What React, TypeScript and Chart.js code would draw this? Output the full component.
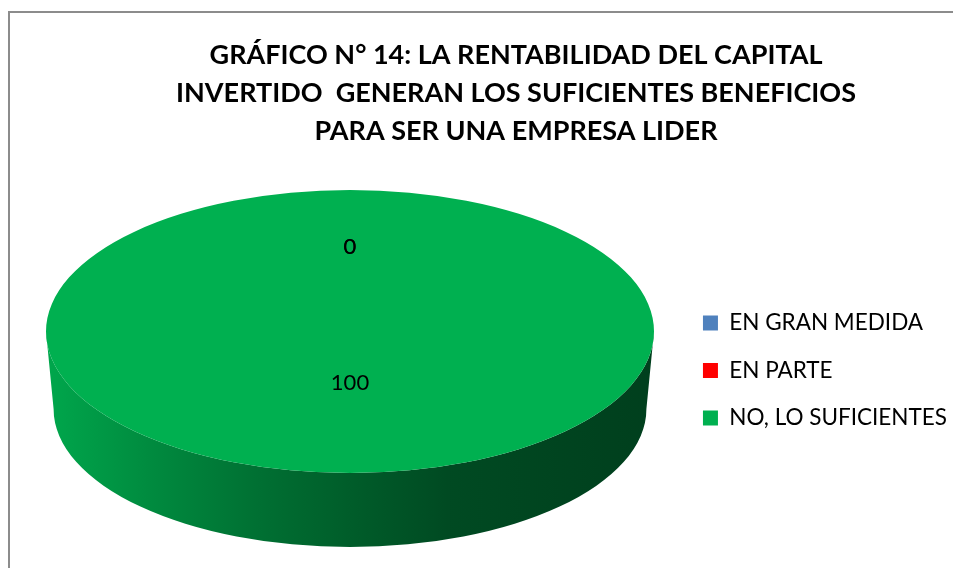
import React, { useEffect, useRef } from 'react';
import { Chart, registerables } from 'chart.js';

Chart.register(...registerables);

// ---- data ----
const TITLE_LINES = [
  'GRÁFICO N° 14: LA RENTABILIDAD DEL CAPITAL',
  'INVERTIDO  GENERAN LOS SUFICIENTES BENEFICIOS',
  'PARA SER UNA EMPRESA LIDER',
];
const CATEGORIES = ['EN GRAN MEDIDA', 'EN PARTE', 'NO, LO SUFICIENTES'];
const VALUES = [0, 0, 100];
const COLORS = ['#4F81BD', '#FF0000', '#00B050'];

// ---- projection of the pie into a tilted 3D disc (canvas px) ----
const CANVAS_W = 951;
const CANVAS_H = 558;
const PIE = { cx: 340, cy: 318.5, rx: 304, ry: 141.5, depth: 77.5, bottomScale: 0.975 };
const SIDE_STOPS: [number, number][] = [
  [0, 0.95], [0.17, 0.79], [0.34, 0.64], [0.5, 0.53], [0.66, 0.42], [1, 0.36],
];
const LABEL_FONT = '22px Lato';

function shade(hex: string, f: number) {
  const n = parseInt(hex.slice(1), 16);
  const r = Math.round(((n >> 16) & 255) * f);
  const g = Math.round(((n >> 8) & 255) * f);
  const b = Math.round((n & 255) * f);
  return `rgb(${r},${g},${b})`;
}

const pie3d = {
  id: 'pie3d',
  beforeDatasetsDraw(chart: any) {
    const ctx: CanvasRenderingContext2D = chart.ctx;
    const arcs = chart.getDatasetMeta(0).data as any[];
    if (!arcs.length) return;
    const { cx, cy, rx, ry, depth, bottomScale } = PIE;
    const bg = chart.data.datasets[0].backgroundColor as string[];
    arcs.forEach((arc, i) => {
      const a0 = Math.max(arc.startAngle, 0);
      const a1 = Math.min(arc.endAngle, Math.PI);
      if (a1 <= a0) return;
      const grad = ctx.createLinearGradient(cx - rx, 0, cx + rx, 0);
      SIDE_STOPS.forEach(([t, f]) => grad.addColorStop(t, shade(bg[i], f)));
      ctx.save();
      ctx.beginPath();
      ctx.ellipse(cx, cy, rx, ry, 0, a0, a1, false);
      ctx.ellipse(cx, cy + depth, rx * bottomScale, ry * bottomScale, 0, a1, a0, true);
      ctx.closePath();
      ctx.fillStyle = grad;
      ctx.fill();
      ctx.restore();
    });
    const ref = arcs[0];
    const R = ref.outerRadius;
    ctx.save();
    ctx.translate(cx, cy);
    ctx.scale(rx / R, ry / R);
    ctx.translate(-ref.x, -ref.y);
  },
  afterDatasetsDraw(chart: any) {
    const ctx: CanvasRenderingContext2D = chart.ctx;
    const arcs = chart.getDatasetMeta(0).data as any[];
    if (!arcs.length) return;
    ctx.restore();
    const { cx, cy, rx, ry } = PIE;
    const data = chart.data.datasets[0].data as number[];
    ctx.save();
    ctx.font = LABEL_FONT;
    ctx.fillStyle = '#000000';
    ctx.textAlign = 'center';
    ctx.textBaseline = 'middle';
    arcs.forEach((arc, i) => {
      const v = data[i];
      const mid = (arc.startAngle + arc.endAngle) / 2;
      const f = v === 0 ? 0.595 : 0.36;
      ctx.fillText(String(v), cx + Math.cos(mid) * f * rx, cy + Math.sin(mid) * f * ry);
    });
    ctx.restore();
  },
};

export default function App() {
  const ref = useRef<HTMLCanvasElement>(null);
  useEffect(() => {
    document.body.style.overflow = 'hidden';
    const canvas = ref.current!;
    const chart = new Chart(canvas, {
      type: 'pie',
      data: {
        labels: CATEGORIES,
        datasets: [
          {
            data: VALUES,
            backgroundColor: COLORS,
            borderWidth: 0,
            clip: false as any,
          },
        ],
      },
      options: {
        responsive: false,
        animation: false,
        events: [],
        layout: { padding: { left: 65, right: 4, top: 0, bottom: 0 } },
        plugins: {
          title: {
            display: true,
            text: TITLE_LINES,
            color: '#000000',
            font: { family: 'Lato', size: 27, weight: 'bold', lineHeight: '38px' as any },
            padding: { top: 23, bottom: 20 },
          },
          legend: {
            position: 'right',
            fullSize: false,
            labels: {
              boxWidth: 15,
              boxHeight: 15,
              padding: 25,
              color: '#000000',
              font: { family: 'Lato', size: 22.5 },
            },
          },
          tooltip: { enabled: false },
        },
      },
      plugins: [pie3d],
    });
    return () => chart.destroy();
  }, []);
  return (
    <div
      style={{
        position: 'relative',
        top: 3,
        width: 953,
        height: 560,
        borderLeft: '2px solid #8C8C8C',
        borderTop: '2px solid #8C8C8C',
        boxSizing: 'border-box',
      }}
    >
      <canvas ref={ref} width={CANVAS_W} height={CANVAS_H} style={{ display: 'block' }} />
    </div>
  );
}
